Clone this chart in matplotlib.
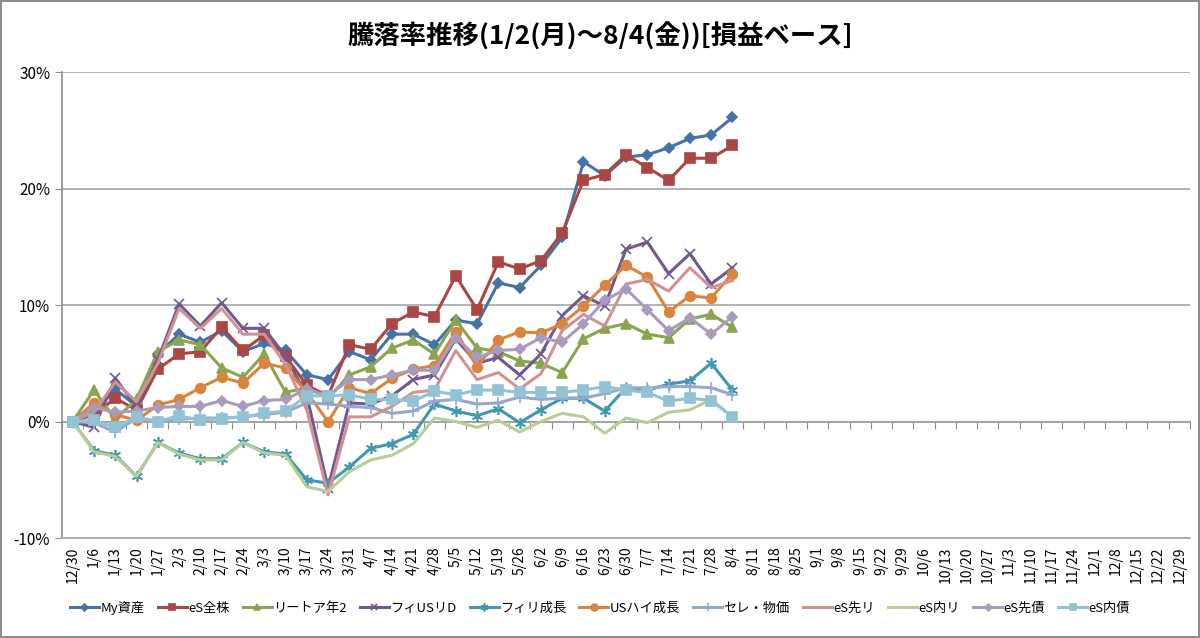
import matplotlib
matplotlib.use("Agg")
import matplotlib.pyplot as plt
from matplotlib.ticker import FuncFormatter

plt.rcParams['font.family'] = ['Noto Sans CJK JP', 'DejaVu Sans']

# weekly dates (Fri) 12/30 .. 12/29
dates = ['12/30', '1/6', '1/13', '1/20', '1/27', '2/3', '2/10', '2/17', '2/24',
         '3/3', '3/10', '3/17', '3/24', '3/31', '4/7', '4/14', '4/21', '4/28',
         '5/5', '5/12', '5/19', '5/26', '6/2', '6/9', '6/16', '6/23', '6/30',
         '7/7', '7/14', '7/21', '7/28', '8/4', '8/11', '8/18', '8/25', '9/1',
         '9/8', '9/15', '9/22', '9/29', '10/6', '10/13', '10/20', '10/27',
         '11/3', '11/10', '11/17', '11/24', '12/1', '12/8', '12/15', '12/22',
         '12/29']

# values in %, 12/30 .. 8/4
my_assets = [0, 0.7, 2.8, 1.3, 5.8, 7.5, 6.8, 7.8, 6.0, 6.7, 6.1, 4.0, 3.6, 6.0,
             5.3, 7.5, 7.5, 6.6, 8.7, 8.4, 11.9, 11.5, 13.4, 15.8, 22.3, 21.1,
             22.7, 22.9, 23.5, 24.3, 24.6, 26.1]
es_all = [0, 0.6, 2.0, 1.0, 4.5, 5.8, 6.0, 8.1, 6.1, 7.4, 5.6, 3.1, 2.2, 6.6,
          6.2, 8.4, 9.4, 9.0, 12.5, 9.6, 13.7, 13.1, 13.8, 16.2, 20.7, 21.2,
          22.9, 21.8, 20.7, 22.6, 22.6, 23.7]
reit_2 = [0, 2.7, 0.2, 1.9, 6.0, 7.0, 6.6, 4.6, 3.8, 5.8, 2.5, 2.9, 2.0, 4.0,
          4.7, 6.3, 7.0, 5.8, 8.7, 6.3, 6.0, 5.2, 5.0, 4.2, 7.1, 8.0, 8.4, 7.5,
          7.2, 8.8, 9.2, 8.1]
fi_us_reit = [0, -0.5, 3.7, 1.3, 5.3, 10.1, 8.2, 10.2, 8.0, 8.0, 5.6, 2.2, -5.7,
              1.6, 1.5, 2.2, 3.6, 4.0, 7.1, 5.0, 5.5, 4.0, 5.8, 9.1, 10.8, 9.9,
              14.8, 15.4, 12.7, 14.4, 11.8, 13.2]
fi_growth = [0, -2.5, -2.9, -4.7, -1.8, -2.7, -3.2, -3.2, -1.8, -2.6, -2.8, -5.0,
             -5.3, -3.9, -2.3, -1.9, -1.1, 1.5, 0.9, 0.5, 1.1, -0.1, 1.0, 2.0,
             2.0, 0.9, 2.9, 2.7, 3.2, 3.5, 5.0, 2.7]
us_high = [0, 1.6, 0.6, 0.1, 1.4, 1.9, 2.9, 3.8, 3.3, 5.0, 4.6, 2.5, 0.0, 2.9,
           2.4, 3.7, 4.5, 4.8, 7.7, 4.7, 7.0, 7.7, 7.6, 8.4, 9.9, 11.7, 13.4,
           12.4, 9.4, 10.8, 10.6, 12.7]
sele_bukka = [0, -0.1, -0.9, 0.3, 0.0, 0.2, 0.3, 0.3, 0.4, 0.6, 0.8, 1.6, 1.5,
              1.3, 1.2, 0.7, 0.9, 1.75, 1.9, 1.5, 1.6, 2.1, 1.9, 2.0, 2.0, 2.4,
              2.9, 2.9, 3.0, 3.0, 2.9, 2.3]
es_f_reit = [0, 0.8, 3.4, 1.7, 5.0, 9.7, 8.0, 9.7, 7.5, 7.5, 4.9, 1.0, -6.3, 0.4,
             0.4, 1.3, 2.5, 2.7, 6.1, 3.6, 4.2, 2.8, 4.1, 7.8, 9.2, 8.2, 11.8,
             12.2, 11.2, 13.2, 11.5, 12.1]
es_j_reit = [0, -2.6, -3.0, -4.7, -1.8, -2.8, -3.3, -3.3, -1.8, -2.7, -2.9, -5.6,
             -6.0, -4.3, -3.3, -2.9, -1.9, 0.3, 0.0, -0.5, 0.1, -0.9, 0.0, 0.7,
             0.4, -1.0, 0.3, -0.1, 0.8, 1.0, 1.9, 0.4]
es_f_bond = [0, 1.2, 0.8, 0.9, 1.2, 1.3, 1.3, 1.8, 1.3, 1.8, 1.9, 2.8, 2.2, 3.6,
             3.6, 4.0, 4.4, 4.4, 7.2, 5.5, 6.1, 6.2, 7.2, 6.8, 8.4, 10.4, 11.4,
             9.6, 7.8, 8.9, 7.5, 9.0]
es_j_bond = [0, 0.1, -0.5, 0.4, 0.0, 0.5, 0.1, 0.25, 0.4, 0.7, 0.9, 2.2, 2.2,
             2.3, 1.9, 1.9, 1.75, 2.6, 2.3, 2.7, 2.7, 2.5, 2.5, 2.5, 2.7, 3.0,
             2.7, 2.5, 1.75, 2.0, 1.8, 0.4]

series = [
    ('My資産', my_assets, '#4572A7', 'D', 5),
    ('eS全株', es_all, '#AA4643', 's', 7),
    ('リートア年2', reit_2, '#89A54E', '^', 7),
    ('フィUSリD', fi_us_reit, '#71588F', 'x', 7),
    ('フィリ成長', fi_growth, '#4198AF', (6, 2, 0), 8),
    ('USハイ成長', us_high, '#DB843D', 'o', 7),
    ('セレ・物価', sele_bukka, '#93A9CF', '+', 8),
    ('eS先リ', es_f_reit, '#D19392', None, 0),
    ('eS内リ', es_j_reit, '#B9CD96', None, 0),
    ('eS先債', es_f_bond, '#A99BBD', 'D', 5),
    ('eS内債', es_j_bond, '#91C3D5', 's', 7),
]

fig = plt.figure(figsize=(12, 6.38), dpi=100)
fig.patch.set_edgecolor('#8c8c8c')
fig.patch.set_linewidth(1.5)
ax = fig.add_axes([0.0517, 0.1567, 0.9400, 0.7304])

x = list(range(len(my_assets)))
for name, vals, col, mk, ms in series:
    ax.plot(x, vals, color=col, lw=2.2, marker=mk, markersize=ms,
            markeredgewidth=1.2, label=name)

ax.set_xlim(-0.5, len(dates) - 0.5)
ax.set_ylim(-10, 30)
ax.set_yticks([-10, 0, 10, 20, 30])
ax.yaxis.set_major_formatter(FuncFormatter(lambda v, p: f'{v:.0f}%'))
ax.set_xticks(range(len(dates)))
ax.set_xticklabels(dates, rotation=90, fontsize=10)
ax.tick_params(axis='x', length=0, pad=6)
ax.tick_params(axis='y', length=5, color='#8c8c8c', labelsize=11)
ax.grid(axis='y', color='#a6a6a6', lw=1.2)
ax.set_axisbelow(True)
for s in ['top', 'right']:
    ax.spines[s].set_visible(False)
ax.spines['left'].set_color('#8c8c8c')
ax.spines['bottom'].set_color('#a6a6a6')
ax.spines['left'].set_linewidth(1.2)
ax.spines['bottom'].set_linewidth(1.2)

# horizontal axis line at 0% with tick marks between categories
sec = ax.secondary_xaxis(0.25)
sec.set_alignment('bottom')
sec.set_xticks([i - 0.5 for i in range(len(dates) + 1)])
sec.set_xticklabels([])
sec.tick_params(length=5, color='#8c8c8c', direction='out')
sec.spines['bottom'].set_color('#8c8c8c')
sec.spines['bottom'].set_linewidth(1.2)

fig.suptitle('騰落率推移(1/2(月)～8/4(金))[損益ベース]', fontsize=19,
             fontweight='bold', y=0.965)

fig.legend(loc='center', bbox_to_anchor=(0.5, 0.047), ncol=11, frameon=False,
           fontsize=9.5, handlelength=2.2, handletextpad=0.1, columnspacing=1.0,
           markerscale=0.7)

fig.savefig('out.png', dpi=100)
